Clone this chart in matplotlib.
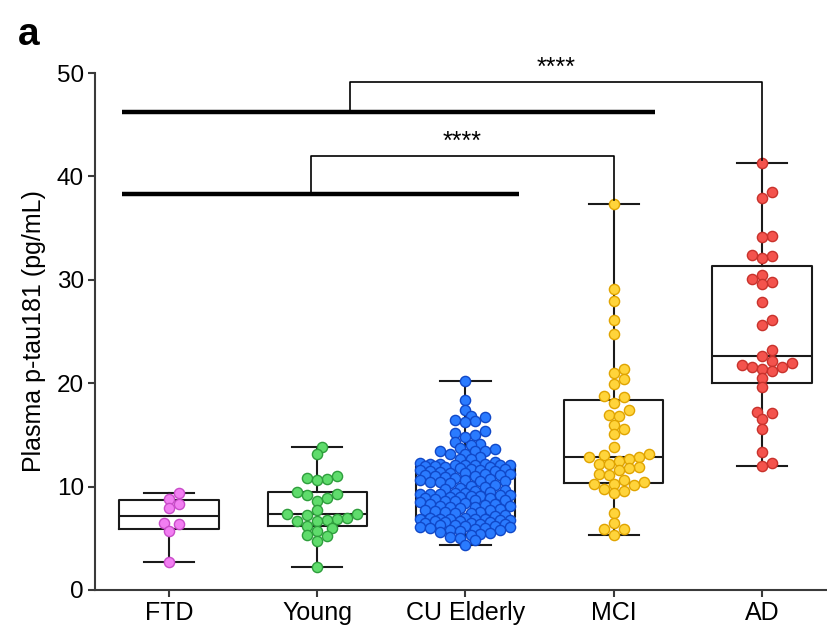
import numpy as np
import matplotlib
matplotlib.use("Agg")
import matplotlib.pyplot as plt

plt.rcParams['font.family'] = ['Liberation Sans', 'DejaVu Sans']

categories = ["FTD", "Young", "CU Elderly", "MCI", "AD"]

ftd = [9.4, 8.8, 8.3, 7.9, 6.45, 6.35, 5.7, 2.7]
young = [13.86, 13.15, 11.0, 10.8, 10.7, 10.64, 9.45, 9.25, 9.19, 8.87, 8.6,
         7.74, 7.35, 7.32, 7.25, 7.0, 6.85, 6.77, 6.7, 6.7, 6.19, 6.03, 5.74,
         5.29, 5.22, 4.74, 2.2]
cu_elderly = [20.2, 18.4, 17.4, 16.8, 16.7, 16.4, 16.3, 16.2, 15.4, 15.2, 15.0,
              14.8, 14.35, 14.1, 14.0, 13.7, 13.6, 13.4, 13.4, 13.4, 13.2, 13.15,
              12.9, 12.7, 12.7, 12.4, 12.25,
              12.2, 12.15, 12.15, 12.1, 12.1, 12.1, 12.05, 12.05, 12.0, 12.0,
              11.9, 11.85, 11.8, 11.75, 11.7, 11.65, 11.6, 11.55, 11.5,
              11.4, 11.35, 11.3, 11.25, 11.2, 11.15, 11.1, 11.05, 11.0, 10.95,
              10.8, 10.7, 10.65, 10.6, 10.55, 10.5, 10.45, 10.4, 10.3,
              10.2, 10.1, 10.0, 9.9, 9.8, 9.7, 9.6, 9.5, 9.4,
              9.35, 9.3, 9.3, 9.25, 9.2, 9.15, 9.1, 9.05, 9.0,
              8.95, 8.9, 8.85, 8.8, 8.75, 8.7, 8.65, 8.6, 8.5, 8.45,
              8.35, 8.3, 8.2, 8.15, 8.1, 8.05, 8.0, 7.9, 7.85,
              7.75, 7.7, 7.6, 7.55, 7.5, 7.45, 7.4, 7.3, 7.2,
              6.95, 6.92, 6.9, 6.9, 6.88, 6.85, 6.82, 6.8,
              6.75, 6.7, 6.65, 6.6, 6.55, 6.5, 6.45, 6.4, 6.35, 6.3,
              6.25, 6.2, 6.15, 6.1, 6.05, 6.0, 5.95, 5.9, 5.85, 5.8,
              5.7, 5.6, 5.5, 5.4, 5.3,
              5.15, 5.0, 4.8,
              4.35]
mci = [37.36, 29.08, 27.95, 26.1, 24.8, 21.4, 21.0, 20.45, 19.9, 18.75, 18.7,
       18.05, 17.4, 16.9, 16.8, 15.95, 15.6, 15.05, 13.86, 13.2, 13.05, 12.9,
       12.9, 12.7, 12.5, 12.2, 12.2, 11.9, 11.77, 11.6, 11.2, 11.1, 10.6, 10.4,
       10.25, 10.25, 10.15, 9.77, 9.57, 9.35, 7.48, 6.45, 5.93, 5.87, 5.32]
ad = [41.3, 38.5, 37.9, 34.2, 34.1, 32.4, 32.3, 32.1, 30.5, 30.1, 29.8, 29.6,
      27.9, 26.1, 25.6, 23.2, 22.6, 22.1, 22.0, 21.8, 21.6, 21.6, 21.4, 21.2,
      20.5, 19.6, 17.25, 17.1, 16.5, 15.6, 13.3, 12.3, 12.0]

groups = [ftd, young, cu_elderly, mci, ad]
fill_colors = ["#F27EF2", "#5FDC6C", "#2A7BFF", "#FFD43B", "#F4534D"]
edge_colors = ["#C94BC9", "#2E9E3C", "#1048C8", "#E0A400", "#C8322C"]

yticks = [0, 10, 20, 30, 40, 50]

W, H = 828, 634
fig = plt.figure(figsize=(W / 100, H / 100), dpi=100)
ax_left, ax_bottom = 95 / W, 44 / H
ax_w, ax_h = 741 / W, 517 / H
ax = fig.add_axes([ax_left, ax_bottom, ax_w, ax_h])
ax.set_xlim(-0.5, 4.5)
ax.set_ylim(0, 50)

xpx = ax_w * W / 5.0
ypx = ax_h * H / 50.0


def swarm_offsets(vals, step=5.0, thr=8.6, maxoff=50.0):
    vals = np.asarray(vals, float)
    order = np.argsort(vals)
    placed = []
    offs = np.zeros(len(vals))
    cands = [0.0]
    k = 1
    while k * step <= maxoff:
        cands += [k * step, -k * step]
        k += 1
    for i in order:
        y = vals[i] * ypx
        chosen = None
        bestd, bestc = -1, 0.0
        for c in cands:
            if placed:
                arr = np.array(placed)
                d = np.min(np.hypot(c - arr[:, 0], y - arr[:, 1]))
            else:
                d = np.inf
            if d >= thr:
                chosen = c
                break
            if d > bestd:
                bestd, bestc = d, c
        if chosen is None:
            chosen = bestc
        placed.append((chosen, y))
        offs[i] = chosen
    return offs / xpx


stats = []
for g in groups:
    a = np.asarray(g, float)
    q1, med, q3 = np.percentile(a, [25, 50, 75], method="weibull")
    stats.append(dict(med=med, q1=q1, q3=q3, whislo=a.min(), whishi=a.max(),
                      fliers=[]))

lineprops = dict(color="#1a1a1a", linewidth=1.5)
ax.bxp(stats, positions=range(len(groups)), widths=0.67, showfliers=False,
       boxprops=lineprops, whiskerprops=lineprops, capprops=lineprops,
       medianprops=lineprops, capwidths=0.34, zorder=1, manage_ticks=False)

for i, g in enumerate(groups):
    maxoff = 48.0 if i == 2 else 60.0
    thr = 7.0 if i == 2 else 8.8
    offs = swarm_offsets(g, thr=thr, maxoff=maxoff)
    ax.scatter(i + offs, g, s=54, c=fill_colors[i], edgecolors=edge_colors[i],
               linewidths=1.0, zorder=3, clip_on=False)

ax.set_xticks(range(len(categories)))
ax.set_xticklabels(categories, fontsize=18)
ax.set_yticks(yticks)
ax.set_yticklabels([str(t) for t in yticks], fontsize=17.5)
ax.set_ylabel("Plasma p-tau181 (pg/mL)", fontsize=18, labelpad=8)

for s in ["top", "right"]:
    ax.spines[s].set_visible(False)
for s in ["left", "bottom"]:
    ax.spines[s].set_linewidth(1.5)
    ax.spines[s].set_color("#3a3a3a")
ax.tick_params(axis="both", direction="out", length=5, width=1.5,
               color="#3a3a3a", pad=3)

# significance annotations
k = dict(color="black", clip_on=False, zorder=4)
ax.plot([-0.32, 2.36], [38.3, 38.3], lw=3.2, solid_capstyle="butt", **k)
ax.plot([-0.32, 3.28], [46.2, 46.2], lw=3.2, solid_capstyle="butt", **k)
ax.plot([0.96, 0.96, 3.0, 3.0], [38.3, 42.0, 42.0, 37.7], lw=1.2, **k)
ax.plot([1.22, 1.22, 4.0, 4.0], [46.2, 49.1, 49.1, 41.6], lw=1.2, **k)
ax.text(1.98, 42.2, "****", ha="center", va="bottom", fontsize=18)
ax.text(2.61, 49.3, "****", ha="center", va="bottom", fontsize=18)

fig.text(18 / W, 1 - 45 / H, "a", fontsize=28, fontweight="bold",
         ha="left", va="baseline")

fig.savefig("out.png", dpi=100)
